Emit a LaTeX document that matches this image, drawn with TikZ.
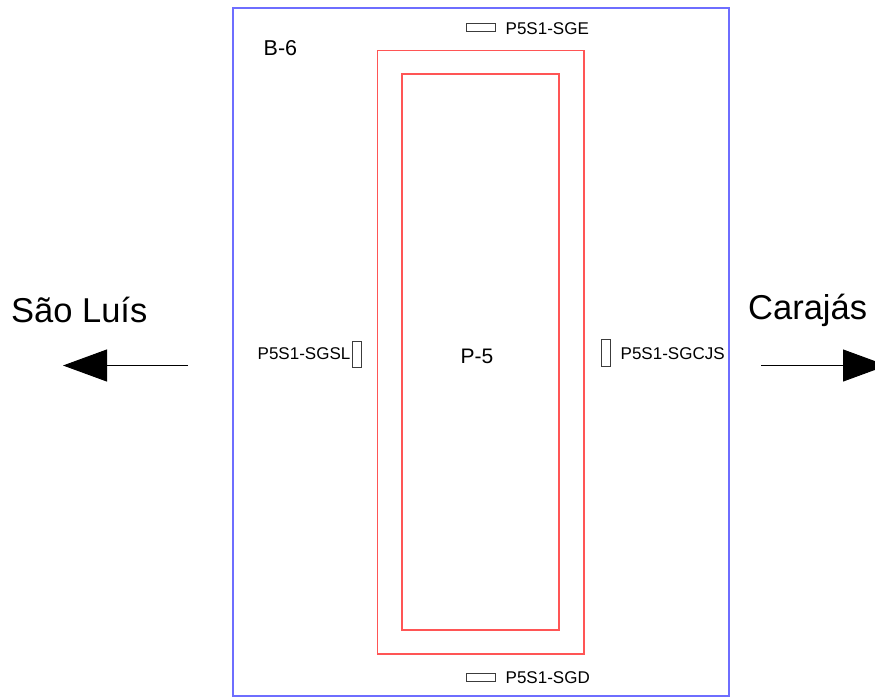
\documentclass[tikz,border=0pt]{standalone}
\usepackage{fontspec}
\setmainfont{Liberation Sans}
\usetikzlibrary{arrows.meta}
\definecolor{bluebox}{RGB}{110,110,255}
\definecolor{redbox}{RGB}{255,85,85}
\definecolor{gauge}{RGB}{60,60,60}
\tikzset{
  lbl/.style={inner sep=0pt, anchor=west, font=\fontsize{17}{19}\selectfont},
  big/.style={inner sep=0pt, font=\fontsize{34.5}{38}\selectfont},
  gaugebox/.style={draw=gauge, line width=0.9pt, fill=white},
  dirarrow/.style={line width=1pt, -{Triangle[length=44pt,width=32pt]}}
}
\begin{document}
\begin{tikzpicture}[x=1pt,y=-1pt]
\useasboundingbox (0,0) rectangle (875,697);
% outline of B-6
\draw[bluebox, line width=1.2pt] (233,8) rectangle (729,696);
% P-5 walls
\draw[redbox, line width=1.2pt] (377.8,50.5) rectangle (584,654);
\draw[redbox, line width=1.2pt] (402,74) rectangle (559,630);
% gauges
\draw[gaugebox] (466,23.5) rectangle (495.5,31.5);
\draw[gaugebox] (466,673.5) rectangle (495.5,681.5);
\draw[gaugebox] (352.5,341) rectangle (361.5,367);
\draw[gaugebox] (601.5,339) rectangle (610.5,366);
% labels
\node[lbl] (sge) at (505.5,28.5) {P5S1-SGE};
\node[lbl] (sgd) at (505.5,678) {P5S1-SGD};
\node[lbl, anchor=east] (sgsl) at (350.5,353.5) {P5S1-SGSL};
\node[lbl] (sgcjs) at (620.5,354) {P5S1-SGCJS};
\node[inner sep=0pt, anchor=west, font=\fontsize{21.5}{24}\selectfont] (b6) at (263.5,48) {B-6};
\node[inner sep=0pt, font=\fontsize{21}{24}\selectfont] (p5) at (477,356) {P-5};
\node[big, anchor=west] (sl) at (11,310) {São Luís};
\node[big, anchor=west] (cj) at (748,310) {Carajás};
% direction arrows
\coordinate (la) at (188,365.5);
\coordinate (lt) at (63,365.5);
\coordinate (ra) at (761,365.5);
\coordinate (rt) at (887,365.5);
\draw[dirarrow] (la) -- (lt);
\draw[dirarrow] (ra) -- (rt);
\end{tikzpicture}
\end{document}
